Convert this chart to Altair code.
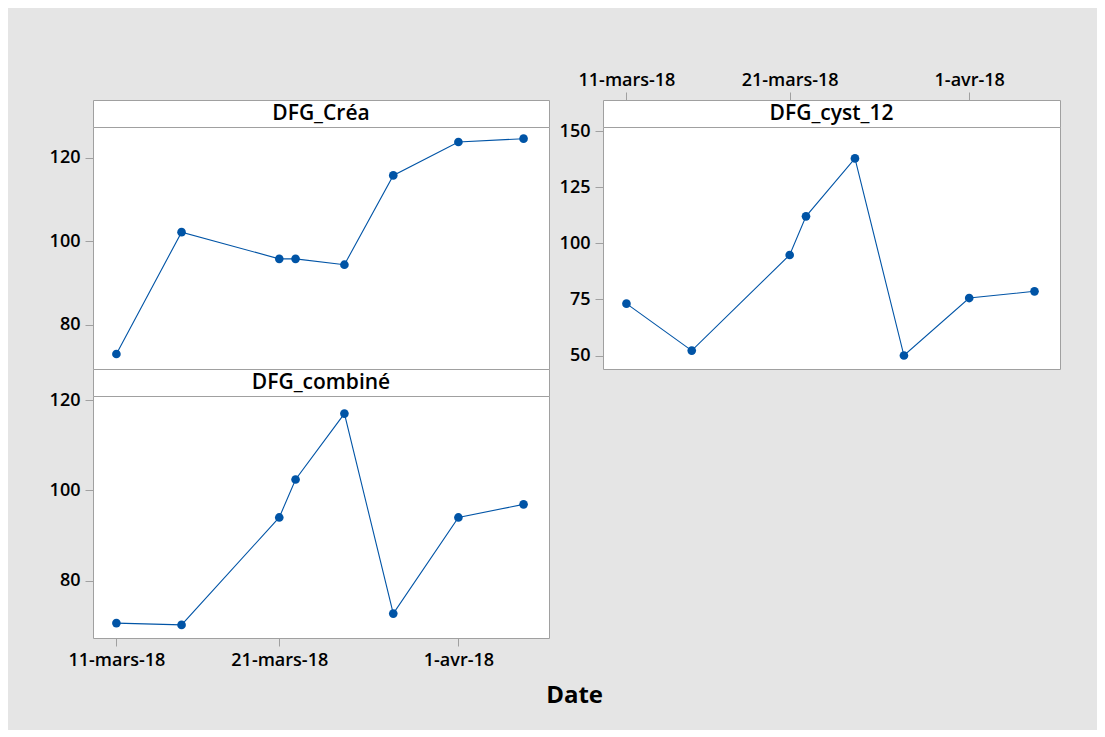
import altair as alt
import pandas as pd

# ---- data ----
dates = ["2018-03-11", "2018-03-15", "2018-03-21", "2018-03-22",
         "2018-03-25", "2018-03-28", "2018-04-01", "2018-04-05"]
dfg_crea = [73.0, 102.2, 95.8, 95.8, 94.4, 115.8, 123.8, 124.6]
dfg_cyst = [73.1, 52.2, 94.8, 112.0, 137.8, 50.0, 75.6, 78.6]
dfg_comb = [70.6, 70.2, 94.0, 102.4, 117.0, 72.7, 94.0, 96.9]

tick_dates = ["2018-03-11", "2018-03-21", "2018-04-01"]
tick_labels = ["11-mars-18", "21-mars-18", "1-avr-18"]
x_range = ["2018-03-09T13:30:00", "2018-04-06T13:30:00"]

crea_dom, crea_ticks = [69.4, 127.4], [80, 100, 120]
cyst_dom, cyst_ticks = [44.0, 151.8], [50, 75, 100, 125, 150]
comb_dom, comb_ticks = [67.3, 120.9], [80, 100, 120]

names = ["DFG_Créa", "DFG_cyst_12", "DFG_combiné"]

# ---- tables ----
rows = []
for name, vals in zip(names, [dfg_crea, dfg_cyst, dfg_comb]):
    for d, v in zip(dates, vals):
        rows.append({"series": name, "date": d, "value": v})
df = pd.DataFrame(rows)


def ms(s):
    return int(pd.Timestamp(s, tz="UTC").value // 10**6)


tick_ms = [ms(s) for s in tick_dates]
x_dom = [ms(s) for s in x_range]
label_expr = ("[" + ",".join("'%s'" % t for t in tick_labels) + "][indexof(["
              + ",".join(str(t) for t in tick_ms) + "], time(datum.value))]")

FONT = "Open Sans"
WEIGHT = 600
BLUE = "#0054a6"
GRAY = "#a0a0a0"
W = 456
H = 242
HH = 27

x_scale = alt.Scale(type="utc", domain=x_dom)


def x_axis(orient, pad):
    return alt.Axis(orient=orient, values=tick_ms, labelExpr=label_expr, title=None,
                    grid=False, domain=False, tickColor=GRAY, tickSize=8,
                    labelFont=FONT, labelFontSize=18, labelFontWeight=WEIGHT,
                    labelColor="black", labelPadding=pad,
                    labelFlush=False, labelOverlap=False)


def panel(name, dom, ticks, bottom_axis, width):
    base = alt.Chart(df).transform_filter(alt.datum.series == name)
    x = alt.X("date:T", scale=x_scale,
              axis=x_axis("bottom", 5) if bottom_axis else None)
    y = alt.Y("value:Q", scale=alt.Scale(domain=dom, nice=False, zero=False),
              axis=alt.Axis(values=ticks, title=None, grid=False, domain=False,
                            tickColor=GRAY, tickSize=8, labelFont=FONT,
                            labelFontSize=18, labelFontWeight=WEIGHT,
                            labelColor="black", labelPadding=5, labelFlush=False))
    line = base.mark_line(color=BLUE, strokeWidth=1.1).encode(x=x, y=y)
    pts = base.mark_circle(color=BLUE, size=75, opacity=1).encode(x=x, y=y)
    return (line + pts).properties(width=width, height=H)


def header(name, width, top_axis=False):
    hdf = pd.DataFrame({"label": [name]})
    txt = alt.Chart(hdf).mark_text(font=FONT, fontSize=21, fontWeight=WEIGHT,
                                   color="black", baseline="middle",
                                   align="center").encode(
        text="label:N", x=alt.value(width / 2), y=alt.value(HH / 2))
    if not top_axis:
        return txt.properties(width=width, height=HH)
    ax = alt.Chart(df).transform_filter(alt.datum.series == name).mark_point(
        opacity=0).encode(x=alt.X("date:T", scale=x_scale, axis=x_axis("top", 3)),
                          y=alt.value(HH / 2))
    return (ax + txt).properties(width=width, height=HH)


W2 = 457
blank = alt.Chart(pd.DataFrame({"label": [""]})).mark_text().encode(
    text="label:N", x=alt.value(0), y=alt.value(0)).properties(
    width=W2, height=HH, view=alt.ViewBackground(fill="transparent", stroke="transparent"))

chart = alt.concat(
    header(names[0], W), header(names[1], W2, top_axis=True),
    panel(names[0], crea_dom, crea_ticks, False, W),
    panel(names[1], cyst_dom, cyst_ticks, False, W2),
    header(names[2], W), blank,
    panel(names[2], comb_dom, comb_ticks, True, W),
    columns=2, spacing={"row": 0, "column": 54}, align="each", bounds="flush",
).resolve_scale(x="independent", y="independent").properties(
    title=alt.TitleParams("Date", orient="bottom", anchor="middle", font=FONT,
                          fontSize=24, fontWeight="bold", color="black",
                          offset=14, dx=20),
    padding={"left": 40, "top": 62, "right": 36, "bottom": 22},
    background="#e5e5e5",
).configure_view(fill="white", stroke=GRAY, strokeWidth=1)

chart.save("out.html", embed_options={"renderer": "svg", "actions": False})
